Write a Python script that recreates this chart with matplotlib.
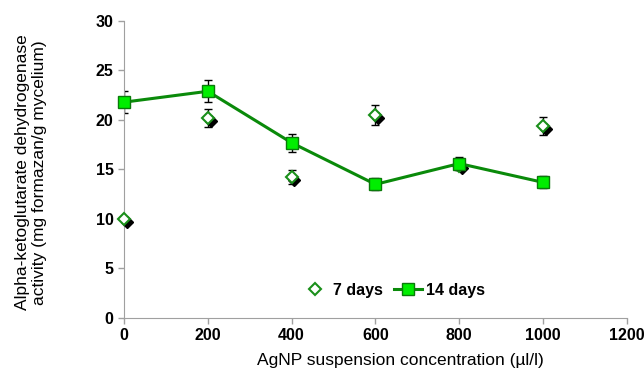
import matplotlib.pyplot as plt
import matplotlib.transforms as mtransforms

plt.rcParams['font.family'] = ['Liberation Sans', 'DejaVu Sans']

# AgNP concentration (ul/l)
conc = [0, 200, 400, 600, 800, 1000]

# enzyme activity after 7 days and 14 days
days7 = [10.0, 20.2, 14.2, 20.5, 15.4, 19.4]
days7_err = [0.0, 0.9, 0.7, 1.0, 0.5, 0.9]
days14 = [21.8, 22.9, 17.7, 13.5, 15.6, 13.7]
days14_err = [1.1, 1.1, 0.9, 0.6, 0.7, 0.6]

fig = plt.figure(figsize=(6.44, 3.91), dpi=100)
ax = fig.add_axes([0.1925, 0.1867, 0.781, 0.7596])

# error bars
ax.errorbar(conc, days14, yerr=days14_err, fmt='none', ecolor='black',
            elinewidth=1, capsize=3, capthick=1, zorder=2)
ax.errorbar(conc, days7, yerr=days7_err, fmt='none', ecolor='black',
            elinewidth=1, capsize=3, capthick=1, zorder=2)

# shadow under 7 day diamonds
shadow = ax.transData + mtransforms.ScaledTranslation(2/72, -2/72, fig.dpi_scale_trans)
ax.plot(conc, days7, linestyle='none', marker='D', markersize=6,
        color='black', transform=shadow, zorder=3, clip_on=False)

ax.plot(conc, days7, linestyle='none', marker='D', markersize=6,
        markerfacecolor='white', markeredgecolor='#1a8f1a', markeredgewidth=1.5,
        label='7 days', zorder=4, clip_on=False)
ax.plot(conc, days14, color='#0a8a0a', linewidth=2.2, marker='s', markersize=8.5,
        markerfacecolor='#00ee00', markeredgecolor='#0a7a0a', markeredgewidth=1,
        label='14 days', zorder=5, clip_on=False)

ax.set_xlim(0, 1200)
ax.set_ylim(0, 30)
ax.set_xticks(range(0, 1201, 200))
ax.set_yticks(range(0, 31, 5))
ax.tick_params(labelsize=11.5, colors='#a0a0a0', labelcolor='black', length=4, width=1)
for lab in ax.get_xticklabels() + ax.get_yticklabels():
    lab.set_fontweight('bold')
ax.spines['top'].set_visible(False)
ax.spines['right'].set_visible(False)
ax.spines['left'].set_color('#a0a0a0')
ax.spines['bottom'].set_color('#a0a0a0')

ax.set_xlabel('AgNP suspension concentration (\u00b5l/l)', fontsize=12.5, labelpad=7, x=0.55)
ax.set_ylabel('Alpha-ketoglutarate dehydrogenase\nactivity (mg formazan/g mycelium)',
              fontsize=12.5, linespacing=1.15)
ax.yaxis.set_label_coords(-0.153, 0.49)

leg = ax.legend(loc='center', bbox_to_anchor=(0.535, 0.094), ncol=2, frameon=False,
                prop={'size': 11.5, 'weight': 'bold'}, handlelength=1.75,
                columnspacing=0.7, handletextpad=0.25)

fig.savefig('out.png', dpi=100)
